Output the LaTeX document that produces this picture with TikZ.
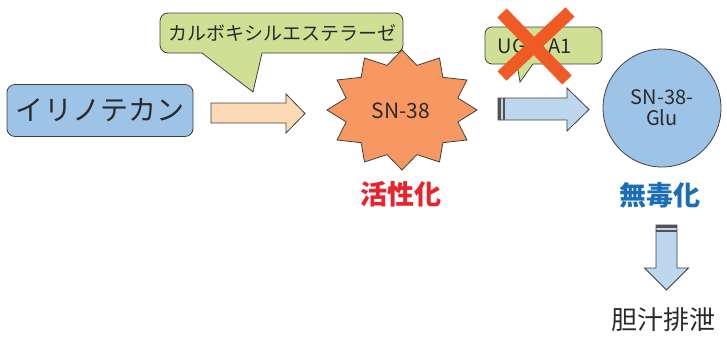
\documentclass[tikz,border=0pt]{standalone}
\usepackage{fontspec}
\setmainfont{Noto Sans CJK JP}
\definecolor{lineC}{HTML}{404040}
\definecolor{boxblue}{HTML}{9DC3E6}
\definecolor{calloutG}{HTML}{CFE095}
\definecolor{peach}{HTML}{FDDAB5}
\definecolor{starC}{HTML}{F79862}
\definecolor{arrowblue}{HTML}{BDD7EE}
\definecolor{crossC}{HTML}{F05A24}
\definecolor{redC}{HTML}{E8232B}
\definecolor{blueC}{HTML}{1B6DB6}
\definecolor{grayC}{HTML}{2A2A2A}
\tikzset{
  shapeline/.style={draw=lineC, line width=0.8pt},
  band/.style={fill=lineC!90},
  fs/.style={font=\fontsize{#1}{#1}\selectfont},
}
\begin{document}
\begin{tikzpicture}[x=1pt,y=-1pt]
\useasboundingbox (0,0) rectangle (727,343);
% irinotecan box
\node[shapeline, fill=boxblue, rounded corners=8pt, minimum width=186pt, minimum height=52pt, fs=28, text=grayC] (iri) at (100,110.5) {イリノテカン};
% callout carboxylesterase
\draw[shapeline, fill=calloutG, rounded corners=8pt] (160,13) rectangle (403,53);
\fill[calloutG] (201.5,51.5) -- (262.3,51.5) -- (253,92) -- cycle;
\draw[shapeline] (202,53) -- (253,92) -- (262,53);
\node[fs=19, text=grayC] (ces) at (282,33) {カルボキシルエステラーゼ};
% arrow 1
\draw[shapeline, fill=peach] (211,103) -- (286,103) -- (286,94) -- (305,113.5) -- (286,133) -- (286,123) -- (211,123) -- cycle;
% star
\draw[shapeline, fill=starC] (402,50)
  \foreach \i [evaluate=\i as \r using {mod(\i,2)==0 ? 1 : 0.77}] in {1,...,23} {
    -- ({402+75*\r*cos(90+15*\i)}, {110-60*\r*sin(90+15*\i)})
  } -- cycle;
\node[fs=21, text=grayC] (sn) at (401,111) {SN-38};
\node[fs=27, text=redC] (act) at (401,194.5) {\bfseries 活性化};
% UGT1A1 callout
\draw[shapeline, fill=calloutG, rounded corners=7pt] (485,27) rectangle (602,64);
\fill[calloutG] (516.5,62.5) -- (533.5,62.5) -- (520,82) -- cycle;
\draw[shapeline] (517,64) -- (520,82) -- (533,64);
\node[fs=20, text=grayC] (ugt) at (535,46.5) {UGT1A1};
\draw[crossC, line width=13pt] (502,13) -- (567,80);
\draw[crossC, line width=13pt] (570,12) -- (502,76);
% arrow 2
\draw[shapeline, fill=arrowblue] (498,98) -- (567,98) -- (567,88) -- (589,109.5) -- (567,131) -- (567,120) -- (498,120) -- cycle;
\fill[band] (498,98) rectangle (500.5,120);
\fill[band] (502.5,98) rectangle (504.5,120);
% circle
\node[shapeline, circle, fill=boxblue, minimum size=118pt, inner sep=0pt, align=center, fs=20, text=grayC] (glu) at (662,108) {SN-38-\\[1pt]Glu};
\node[fs=27, text=blueC] (det) at (660,195) {\bfseries 無毒化};
% down arrow
\draw[shapeline, fill=arrowblue] (656,225) -- (677,225) -- (677,268) -- (688.5,268) -- (666.5,290) -- (644.5,268) -- (656,268) -- cycle;
\fill[band] (656,225) rectangle (677,227.5);
\fill[band] (656,229.5) rectangle (677,231.5);
\node[fs=26, text=grayC] (bile) at (663,320) {胆汁排泄};
\end{tikzpicture}
\end{document}
